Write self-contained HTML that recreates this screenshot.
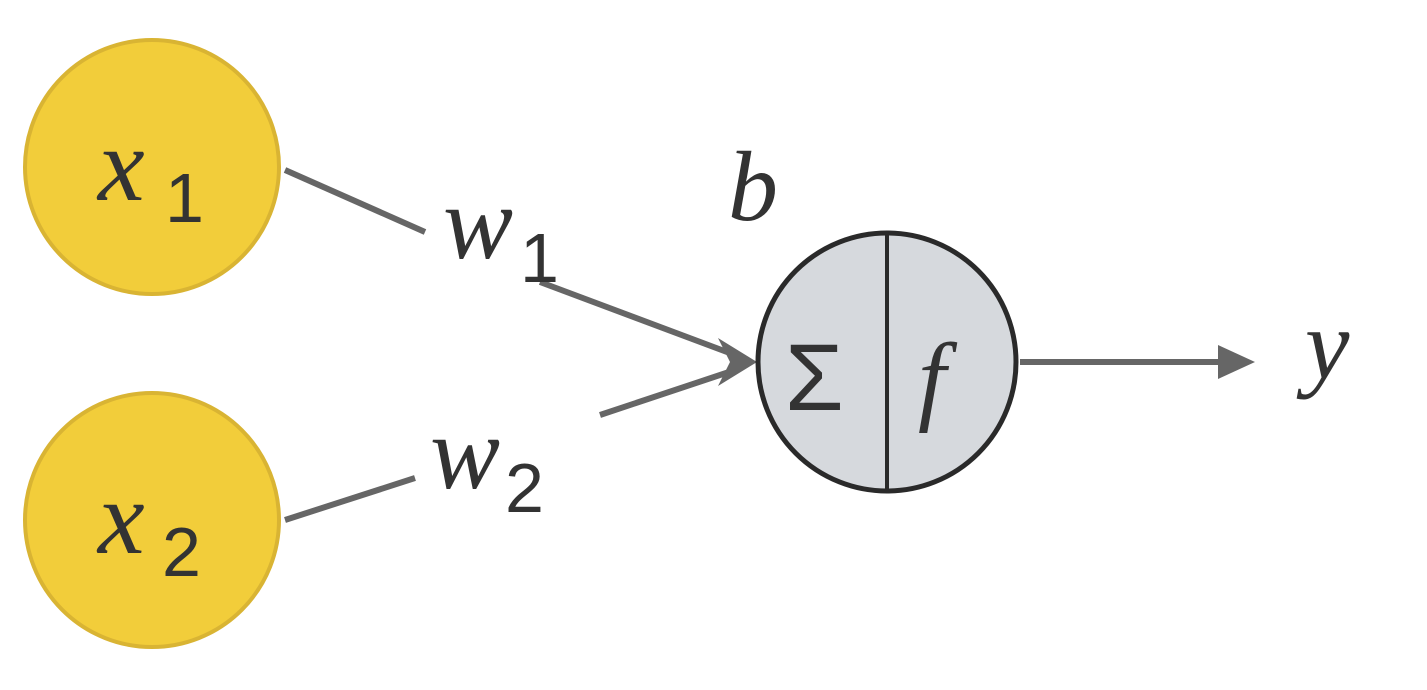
<!DOCTYPE html>
<html><head><style>
html,body{margin:0;padding:0;background:#fff;}
svg{display:block}
text{font-family:"Liberation Serif",serif;font-style:italic;fill:#333;}
text.n{font-style:normal;font-family:"Liberation Sans",sans-serif;}
</style></head><body>
<svg width="1427" height="690" viewBox="0 0 1427 690" xmlns="http://www.w3.org/2000/svg">
<circle cx="152" cy="167" r="127" fill="#f2cd3a" stroke="#d9b433" stroke-width="4"/>
<circle cx="152" cy="520" r="127" fill="#f2cd3a" stroke="#d9b433" stroke-width="4"/>
<g stroke="#666" stroke-width="6" fill="none">
<line x1="285" y1="170" x2="425" y2="232"/>
<line x1="540" y1="282" x2="735" y2="355"/>
<line x1="285" y1="520" x2="415" y2="478"/>
<line x1="600" y1="415" x2="735" y2="370"/>
<line x1="1020" y1="362" x2="1225" y2="362"/>
</g>
<polygon points="757,362 718,338 730,362 718,386" fill="#666"/>
<polygon points="1255,362 1218,345 1218,379" fill="#666"/>
<circle cx="887" cy="362" r="129" fill="#d6d9dd" stroke="#2a2a2a" stroke-width="5"/>
<line x1="887" y1="233" x2="887" y2="491" stroke="#2a2a2a" stroke-width="4"/>
<text x="98" y="200" font-size="105">x</text>
<text class="n" x="165" y="222" font-size="70">1</text>
<text x="98" y="553" font-size="105">x</text>
<text class="n" x="162" y="576" font-size="70">2</text>
<text x="443" y="258" font-size="105">w</text>
<text class="n" x="520" y="282" font-size="70">1</text>
<text x="430" y="488" font-size="105">w</text>
<text class="n" x="505" y="512" font-size="70">2</text>
<text x="728" y="220" font-size="100">b</text>
<text class="n" x="785" y="410" font-size="95">Σ</text>
<text x="918" y="412" font-size="100">f</text>
<text x="1305" y="378" font-size="100">y</text>
</svg>
</body></html>
